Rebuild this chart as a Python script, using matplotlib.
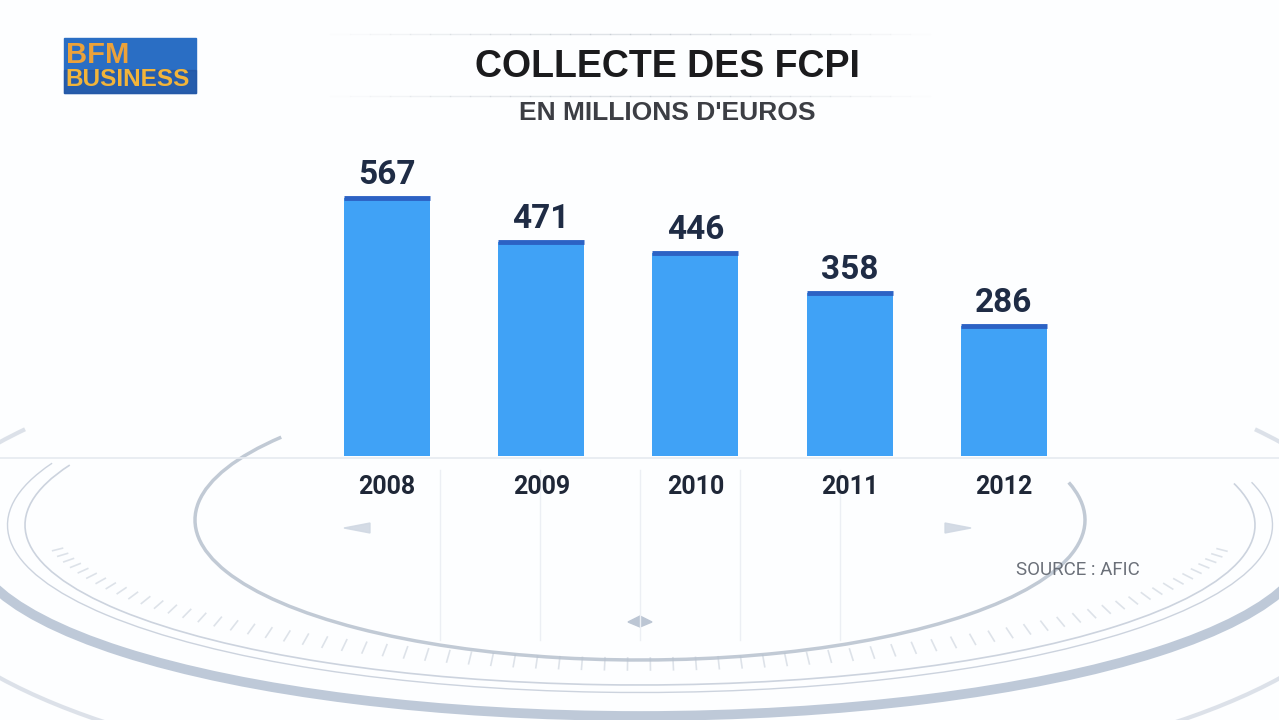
import numpy as np
import matplotlib
matplotlib.use("Agg")
import matplotlib.pyplot as plt
from matplotlib import font_manager
from matplotlib.patches import Arc, Rectangle, Polygon

years = ["2008", "2009", "2010", "2011", "2012"]
values = [567, 471, 446, 358, 286]
title = "COLLECTE DES FCPI"
subtitle = "EN MILLIONS D'EUROS"
source = "SOURCE : AFIC"

avail = {f.name for f in font_manager.fontManager.ttflist}
narrow = "Liberation Sans Narrow" if "Liberation Sans Narrow" in avail else "Roboto"
wide = "Liberation Sans"

W, H = 1279, 720
fig = plt.figure(figsize=(W / 100, H / 100), dpi=100, facecolor="#fdfeff")

# background decoration axes (pixel coordinates)
bg = fig.add_axes([0, 0, 1, 1], zorder=0)
bg.set_xlim(0, W)
bg.set_ylim(H, 0)
bg.axis("off")

ring = "#b3bdcb"
bg.add_patch(Arc((640, 520), 890, 280, theta1=-5, theta2=193, color=ring, lw=2.5, alpha=0.8))
bg.add_patch(Arc((640, 525), 1230, 320, theta1=-4, theta2=186, color="#ccd3de", lw=1.2))
bg.add_patch(Arc((640, 525), 1265, 335, theta1=-4, theta2=186, color="#ccd3de", lw=1.0))
bg.add_patch(Arc((640, 540), 1340, 352, theta1=-3, theta2=183, color="#94a6bf", lw=7, alpha=0.6))
bg.add_patch(Arc((640, 560), 1480, 470, theta1=-12, theta2=192, color="#bcc6d4", lw=3, alpha=0.5))
for ang in np.arange(12, 170, 2.2):
    t = np.deg2rad(ang)
    x0, y0 = 640 + 600 * np.cos(t), 520 + 150 * np.sin(t)
    x1, y1 = 640 + 590 * np.cos(t), 520 + 138 * np.sin(t)
    bg.plot([x0, x1], [y0, y1], color="#b8c2cf", lw=1.2, alpha=0.45)
# faint grid lines in the dial
for gx in [440, 540, 640, 740, 840]:
    bg.plot([gx, gx], [470, 640], color="#eceff4", lw=1)
bg.plot([0, W], [458, 458], color="#e6eaf0", lw=1.2)
# small pointers
for (px, py, d) in [(360, 528, 1), (955, 528, -1)]:
    bg.add_patch(Polygon([[px - 16 * d, py], [px + 10 * d, py - 5], [px + 10 * d, py + 5]],
                         closed=True, color="#d0d8e3", alpha=0.9))
bg.add_patch(Polygon([[628, 622], [640, 616], [652, 622], [640, 627]], closed=True, color="#bcc6d4"))
# faint lines around title
for yy in [34, 96]:
    for i in range(30):
        xs = 330 + i * 20
        al = 0.3 * np.sin(np.pi * (i + 0.5) / 30)
        bg.plot([xs, xs + 20], [yy, yy], color="#9aa4b0", lw=1, alpha=al)

# logo
bg.add_patch(Rectangle((64, 38), 132, 55, color="#2a6ec4"))
bg.add_patch(Rectangle((64, 70), 132, 23, color="#24509a", alpha=0.55))
bg.text(66, 55, "BFM", fontsize=21, fontweight="bold", color="#eca23a",
        family=wide, va="center", ha="left")
bg.text(65, 79, "BUSINESS", fontsize=17.5, fontweight="bold", color="#f2b43a",
        family=wide, va="center", ha="left")

# titles
bg.text(667, 67, title, fontsize=27, fontweight="bold", color="#1b1b1d",
        family=wide, ha="center", va="center")
bg.text(667, 113, subtitle, fontsize=19, fontweight="bold", color="#3c3e44",
        family=wide, ha="center", va="center")
bg.text(1078, 570, source, fontsize=13.5, color="#6b7079", family=narrow,
        ha="center", va="center")

# main bar axes
unit = 154.25
left_px = 387 - 0.7 * unit
right_px = 1004 + 0.7 * unit
bottom_px = 456
top_px = 150
ax = fig.add_axes([left_px / W, (H - bottom_px) / H, (right_px - left_px) / W,
                   (bottom_px - top_px) / H], zorder=1)
ax.patch.set_alpha(0)
ax.set_xlim(-0.7, 4.7)
ax.set_ylim(0, (bottom_px - top_px) / 0.455)
x = np.arange(len(years))
bw = 86 / unit
bars = ax.bar(x, values, width=bw, color="#40a2f6", zorder=2)
ax.hlines(values, x - bw / 2, x + bw / 2, color="#2c62c4", lw=3.5, zorder=3)
ax.bar_label(bars, labels=[str(v) for v in values], padding=5, fontsize=24,
             fontweight="bold", color="#1f2c45", family=narrow)
ax.set_xticks(x)
ax.set_xticklabels(years, fontsize=18, fontweight="bold", color="#1f2737", family=narrow)
ax.tick_params(axis="x", length=0, pad=14)
ax.set_yticks([])
for s in ax.spines.values():
    s.set_visible(False)

fig.savefig("out.png", dpi=100, facecolor=fig.get_facecolor())
